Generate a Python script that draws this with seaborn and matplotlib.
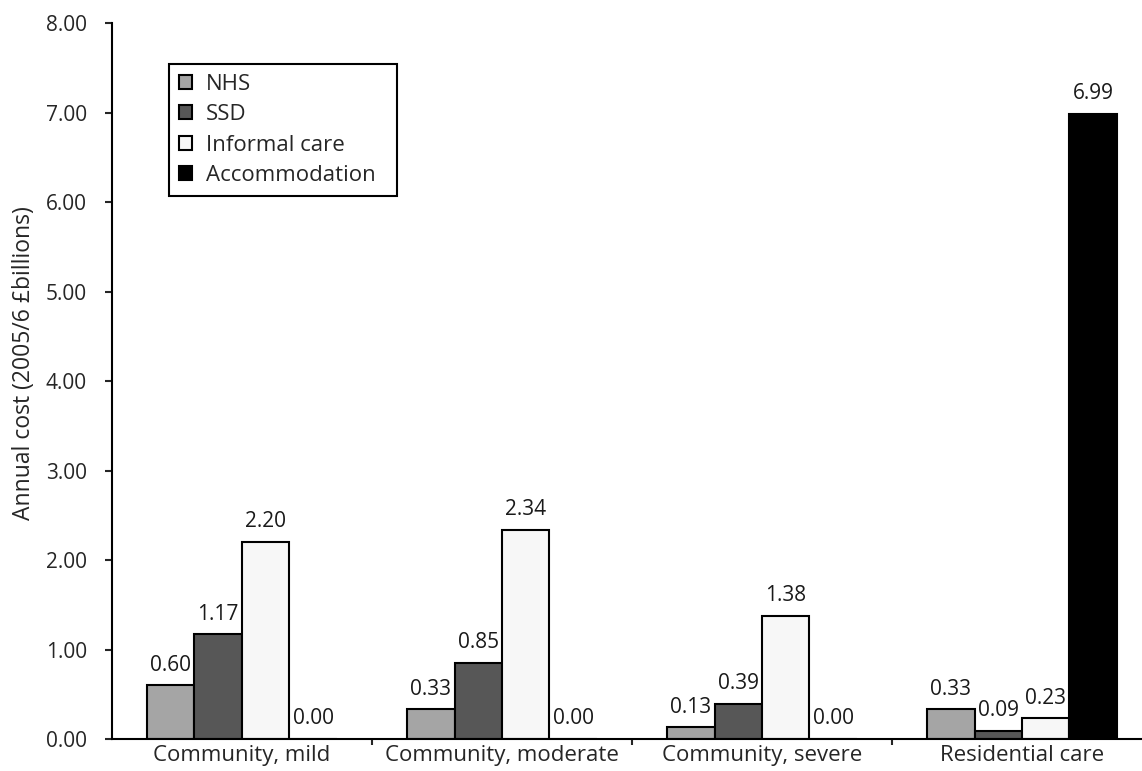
import seaborn as sns
import matplotlib.pyplot as plt
import pandas as pd

# data
settings = ["Community, mild", "Community, moderate", "Community, severe", "Residential care"]
nhs = [0.60, 0.33, 0.13, 0.33]
ssd = [1.17, 0.85, 0.39, 0.09]
informal = [2.20, 2.34, 1.38, 0.23]
accommodation = [0.00, 0.00, 0.00, 6.99]
components = ["NHS", "SSD", "Informal care", "Accommodation"]
colors = ["#a5a5a5", "#575757", "#f7f7f7", "#000000"]

rows = []
for comp, vals in zip(components, [nhs, ssd, informal, accommodation]):
    for s, v in zip(settings, vals):
        rows.append({"Setting": s, "Component": comp, "Cost": v})
df = pd.DataFrame(rows)

sns.set_style("white")
plt.rcParams["font.family"] = ["Open Sans", "DejaVu Sans"]

fig = plt.figure(figsize=(11.42, 7.71), dpi=100)
ax = fig.add_axes([0.098, 0.0415, 0.9108, 0.9285])

sns.barplot(data=df, x="Setting", y="Cost", hue="Component", hue_order=components,
            palette=colors, width=0.73, gap=0, edgecolor="black", linewidth=1.5,
            saturation=1, errorbar=None, ax=ax)

for cont in ax.containers:
    ax.bar_label(cont, fmt="%.2f", padding=7, fontsize=15, color="#1a1a1a")

ax.set_xlim(-0.5, 3.5)
ax.set_ylim(0, 8)
ax.set_yticks(range(0, 9))
ax.set_yticklabels([f"{v:.2f}" for v in range(0, 9)], fontsize=15)
ax.set_xticks([0.5, 1.5, 2.5], minor=False)
ax.set_xticks([0, 1, 2, 3], minor=True)
ax.set_xticklabels([])
ax.set_xticklabels(settings, minor=True, fontsize=16)
ax.tick_params(axis="x", which="minor", length=0, pad=4)
ax.tick_params(axis="x", which="major", length=4, width=1.5, direction="out", bottom=True)
ax.tick_params(axis="y", length=5, width=1.5, direction="out", left=True, pad=13)

ax.set_xlabel("")
ax.set_ylabel("Annual cost (2005/6 £billions)", fontsize=16.5)
ax.yaxis.set_label_coords(-0.085, 0.525)
ax.yaxis.label.set_va("center")

sns.despine(ax=ax, top=True, right=True)
for sp in ["left", "bottom"]:
    ax.spines[sp].set_linewidth(1.5)
    ax.spines[sp].set_color("black")

leg = ax.legend(loc="upper left", bbox_to_anchor=(0.055, 0.943, 0.219, 0), mode="expand",
                fontsize=16, handlelength=0.6, handleheight=0.6, handletextpad=0.6,
                labelspacing=0.42, fancybox=False, framealpha=1,
                edgecolor="black", borderpad=0.45, borderaxespad=0)
leg.get_frame().set_linewidth(1.5)

plt.savefig("out.png", dpi=100)
